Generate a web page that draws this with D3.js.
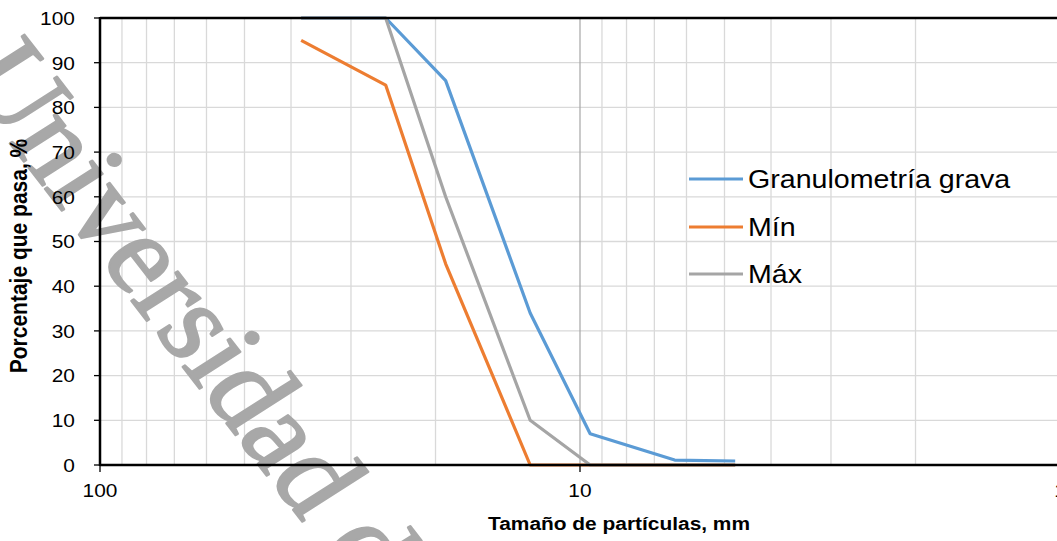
<!DOCTYPE html>
<html>
<head>
<meta charset="utf-8">
<script src="https://cdn.jsdelivr.net/npm/d3@7/dist/d3.min.js"></script>
<style>
  body { margin: 0; background: #fff; }
  svg { display: block; }
  text { font-family: "Liberation Sans", Arial, sans-serif; fill: #000; }
</style>
</head>
<body>
<svg width="1057" height="541"></svg>
<script>
// sieve openings (mm) and % passing
const sizes = [38.1, 25.4, 19.05, 12.7, 9.525, 6.35, 4.75];
const grava = [100, 100, 86, 34, 7, 1.1, 0.9];
const minimo = [95, 85, 45, 0, 0, 0, 0];
const maximo = [100, 100, 60, 10, 0, 0, 0];

const seriesNames = ['Granulometría grava', 'Mín', 'Máx'];
const seriesColors = ['#5b9bd5', '#ed7d31', '#a5a5a5'];

const yTicks = [0, 10, 20, 30, 40, 50, 60, 70, 80, 90, 100];
const xTickLabels = [100, 10, 1];

const SX = 1.1; // the reference is a bit stretched sideways

const svg = d3.select('svg');

const x = d3.scaleLog().domain([100, 1]).range([100, 1060]);
const y = d3.scaleLinear().domain([0, 100]).range([465, 18]);

// put text with the sideways stretch
const place = (sel, px, py) => sel.attr('transform', `translate(${px},${py}) scale(${SX},1)`);

// vertical grid: minor lines inside each decade
const minorX = [];
[10, 1].forEach(base => {
    for (let k = 2; k <= 9; k++) minorX.push(base * k);
});
svg.append('g').selectAll('line')
    .data(minorX)
    .join('line')
    .attr('x1', d => x(d)).attr('x2', d => x(d))
    .attr('y1', y(0)).attr('y2', y(100))
    .attr('stroke', '#d9d9d9')
    .attr('stroke-width', 1.3);

// horizontal grid
svg.append('g').selectAll('line')
    .data(yTicks.filter(d => d > 0 && d < 100))
    .join('line')
    .attr('x1', x(100)).attr('x2', 1057)
    .attr('y1', d => y(d)).attr('y2', d => y(d))
    .attr('stroke', '#d9d9d9')
    .attr('stroke-width', 1.3);

// major vertical line at 10
svg.append('line')
    .attr('x1', x(10)).attr('x2', x(10))
    .attr('y1', y(0)).attr('y2', y(100))
    .attr('stroke', '#a6a6a6')
    .attr('stroke-width', 1.2);

// watermark
svg.append('text')
    .attr('transform', `translate(-43,75) scale(${SX},1) rotate(54.9)`)
    .style('font-family', '"Liberation Serif", "Times New Roman", serif')
    .style('font-size', '112px')
    .style('fill', '#a8a8a8')
    .style('stroke', '#a8a8a8')
    .style('stroke-width', 2.2)
    .style('stroke-linejoin', 'round')
    .text('Universidad de Cuenca');

// series
const line = d3.line()
    .x(d => x(d[0]))
    .y(d => y(d[1]));

[grava, minimo, maximo].forEach((vals, i) => {
    svg.append('path')
        .datum(sizes.map((s, j) => [s, vals[j]]))
        .attr('d', line)
        .attr('fill', 'none')
        .attr('stroke', seriesColors[i])
        .attr('stroke-width', 3.2)
        .attr('stroke-linejoin', 'round');
});

// frame: left, top, bottom
svg.append('line').attr('x1', x(100)).attr('x2', x(100)).attr('y1', y(100) - 1).attr('y2', y(0) + 1)
    .attr('stroke', '#000').attr('stroke-width', 2.5);
svg.append('line').attr('x1', x(100)).attr('x2', 1057).attr('y1', y(100)).attr('y2', y(100))
    .attr('stroke', '#000').attr('stroke-width', 2.5);
svg.append('line').attr('x1', x(100)).attr('x2', 1057).attr('y1', y(0)).attr('y2', y(0))
    .attr('stroke', '#000').attr('stroke-width', 2.5);

// y ticks + labels
const yAxis = svg.append('g');
yAxis.selectAll('line')
    .data(yTicks)
    .join('line')
    .attr('x1', x(100) - 6).attr('x2', x(100))
    .attr('y1', d => y(d)).attr('y2', d => y(d))
    .attr('stroke', '#000').attr('stroke-width', 1.3);
yAxis.selectAll('text')
    .data(yTicks)
    .join('text')
    .each(function(d) { place(d3.select(this), 75, y(d)); })
    .attr('text-anchor', 'end')
    .attr('dy', '0.36em')
    .style('font-size', '19px')
    .text(d => d);

// x ticks + labels
const xAxis = svg.append('g');
xAxis.selectAll('line')
    .data(xTickLabels)
    .join('line')
    .attr('x1', d => x(d)).attr('x2', d => x(d))
    .attr('y1', y(0)).attr('y2', y(0) + 7)
    .attr('stroke', '#000').attr('stroke-width', 1.3);
xAxis.selectAll('text')
    .data(xTickLabels)
    .join('text')
    .each(function(d) { place(d3.select(this), x(d), 490); })
    .attr('text-anchor', 'middle')
    .attr('dy', '0.36em')
    .style('font-size', '19px')
    .text(d => d);

// axis titles
place(svg.append('text'), 619, 530)
    .attr('text-anchor', 'middle')
    .style('font-size', '19px')
    .style('font-weight', 'bold')
    .text('Tamaño de partículas, mm');

svg.append('text')
    .attr('transform', `translate(27,256) scale(${SX},1) rotate(-90)`)
    .attr('text-anchor', 'middle')
    .style('font-size', '21px')
    .style('font-weight', 'bold')
    .text('Porcentaje que pasa, %');

// legend
const legendY = [179, 227, 274];
const legend = svg.append('g');
seriesNames.forEach((name, i) => {
    legend.append('line')
        .attr('x1', 689).attr('x2', 743)
        .attr('y1', legendY[i]).attr('y2', legendY[i])
        .attr('stroke', seriesColors[i])
        .attr('stroke-width', 3.2);
    place(legend.append('text'), 748, legendY[i])
        .attr('dy', '0.36em')
        .style('font-size', '26px')
        .text(name);
});
</script>
</body>
</html>
